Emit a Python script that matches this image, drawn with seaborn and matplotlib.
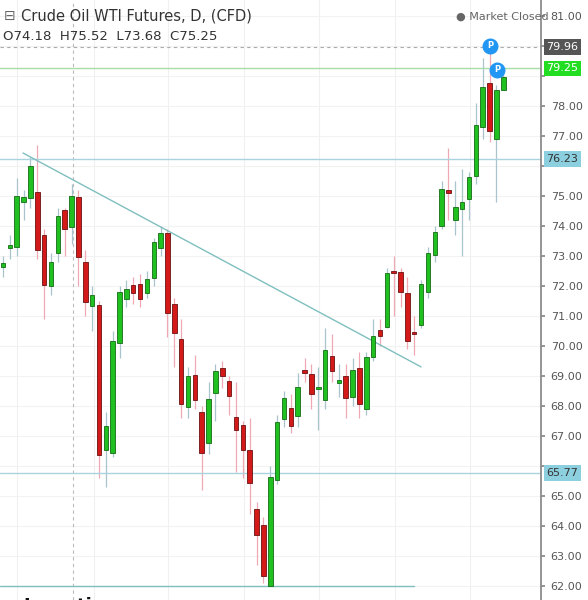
import matplotlib
matplotlib.use('Agg')
import matplotlib.pyplot as plt
import seaborn as sns
import numpy as np

# OHLC per daily candle
opens = [72.63, 73.27, 73.3, 74.8, 74.93, 75.13, 73.7, 72.0, 73.1, 74.53,
         73.97, 74.97, 72.8, 71.33, 71.37, 66.53, 66.43, 70.1, 71.57, 72.03,
         72.07, 71.77, 72.27, 73.27, 73.77, 71.4, 70.23, 67.97, 69.03, 67.8,
         66.77, 68.43, 69.27, 68.83, 67.63, 67.37, 66.53, 64.57, 64.03, 62.0,
         65.53, 67.57, 67.93, 67.67, 69.2, 69.07, 68.55, 68.2, 69.67, 68.77,
         69.0, 68.3, 69.27, 67.9, 69.63, 70.53, 70.63, 72.5, 72.47, 71.77,
         70.45, 70.7, 71.8, 73.03, 74.0, 75.2, 74.2, 74.57, 74.9, 75.67,
         77.3, 78.77, 76.9, 78.53]
closes = [72.77, 73.27, 75.0, 74.97, 76.0, 73.2, 72.03, 72.8, 74.33, 73.9,
          75.0, 72.97, 71.47, 71.7, 66.37, 67.33, 70.17, 71.8, 71.9, 71.77,
          71.57, 72.23, 73.47, 73.77, 71.1, 70.43, 68.07, 69.0, 68.2, 66.43,
          68.23, 69.17, 69.0, 68.33, 67.2, 66.53, 65.43, 63.7, 62.33, 65.63,
          67.47, 68.27, 67.33, 68.63, 69.1, 68.4, 68.62, 69.87, 69.17, 68.77,
          68.27, 69.2, 68.07, 69.63, 70.33, 70.33, 72.43, 72.43, 71.8, 70.17,
          70.4, 72.07, 73.1, 73.8, 75.23, 75.1, 74.63, 74.8, 75.63, 77.37,
          78.63, 77.17, 78.53, 78.97]
highs = [73.0, 73.7, 75.6, 75.2, 76.3, 76.7, 73.9, 73.1, 74.6, 74.6,
         75.4, 75.2, 73.2, 72.0, 71.5, 67.8, 70.5, 72.0, 72.2, 72.3,
         72.4, 72.5, 73.6, 74.0, 73.9, 71.6, 70.9, 69.3, 69.7, 68.0,
         68.8, 69.4, 69.5, 69.0, 68.8, 67.5, 67.6, 64.8, 64.3, 66.0,
         67.7, 68.5, 68.4, 69.1, 69.6, 69.4, 69.3, 70.6, 70.4, 69.4,
         69.4, 69.6, 69.8, 69.8, 70.9, 70.9, 72.6, 73.0, 72.6, 72.3,
         71.0, 72.2, 73.3, 74.0, 75.5, 76.6, 75.5, 75.9, 75.8, 78.1,
         79.6, 79.9, 78.7, 79.1]
lows = [72.3, 72.9, 73.0, 74.2, 74.6, 72.9, 70.9, 71.7, 72.8, 73.0,
        73.4, 72.0, 71.0, 70.5, 65.6, 65.3, 66.3, 69.6, 71.3, 71.4,
        71.3, 71.6, 72.0, 73.0, 70.3, 69.3, 67.6, 67.6, 67.9, 65.2,
        66.4, 67.5, 68.6, 67.7, 65.8, 65.6, 64.4, 62.7, 62.1, 62.0,
        65.4, 67.3, 67.1, 67.3, 68.8, 67.9, 67.2, 67.9, 68.8, 68.3,
        67.6, 68.0, 67.6, 67.7, 69.5, 70.0, 70.6, 71.0, 71.3, 69.9,
        69.7, 70.6, 71.6, 72.8, 73.9, 74.2, 73.7, 73.0, 74.2, 75.4,
        76.9, 76.8, 74.8, 78.7]
price_ticks = list(range(62, 82))
hidden_ticks = [66, 76, 79, 80]  # covered by the level boxes
level_lines = [76.23, 65.77]

sns.set_theme(style='white')
plt.rcParams['font.family'] = ['DejaVu Sans']

fig = plt.figure(figsize=(5.88, 6.0), dpi=100)
ax = fig.add_axes([0, 0, 541 / 588, 1])

idx = np.arange(len(opens))
o = np.array(opens); c = np.array(closes)
up = c >= o
green, red = '#21c021', '#d41919'

# grid
for gx in [17, 94, 168, 244, 319, 395, 470]:
    ax.axvline((gx - 3) / 6.85, color='#f0f0f0', lw=0.8, zorder=0)
for p in price_ticks:
    ax.axhline(p, color='#f2f2f2', lw=0.8, zorder=0)
ax.axvline((73 - 3) / 6.85, color='#bbbbbb', lw=0.8, ls=(0, (3, 3)), zorder=0)

# wicks and bodies
ax.vlines(idx[up], np.array(lows)[up], np.array(highs)[up], color='#a9c4cc', lw=0.9, zorder=1)
ax.vlines(idx[~up], np.array(lows)[~up], np.array(highs)[~up], color='#efa8b4', lw=0.9, zorder=1)
bottoms = np.minimum(o, c)
heights = np.maximum(np.abs(c - o), 0.08)
ax.bar(idx[up], heights[up], bottom=bottoms[up], width=0.66, color=green,
       edgecolor='#146b14', lw=0.6, zorder=2)
ax.bar(idx[~up], heights[~up], bottom=bottoms[~up], width=0.66, color=red,
       edgecolor='#6b1010', lw=0.6, zorder=2)

# horizontal levels and trendline
ax.axhline(79.96, color='#aaaaaa', lw=0.8, ls=(0, (3, 3)), zorder=1)
ax.axhline(79.25, color='#a8dca8', lw=1.0, zorder=1)
for lv in level_lines:
    ax.axhline(lv, color='#a9d3de', lw=1.0, zorder=1)
ax.plot([-0.4, 59.9], [62.0, 62.0], color='#7fbfbf', lw=1.0, zorder=1)
ax.plot([2.92, 61.0], [76.43, 69.3], color='#7fbfbf', lw=1.0, zorder=1)

ax.set_xlim(-0.44, 78.5)
ax.set_ylim(61.53, 81.53)
ax.yaxis.tick_right()
ax.set_yticks(price_ticks)
ax.set_yticklabels(['' if p in hidden_ticks else f'{p:.2f}' for p in price_ticks],
                   color='#555555', fontsize=8)
ax.tick_params(axis='y', length=3, color='#888888', pad=4)
ax.set_xticks([])
for s in ['top', 'left', 'bottom']:
    ax.spines[s].set_visible(False)
ax.spines['right'].set_color('#888888')

# price label boxes on the axis
for val, fc, tc in [(79.96, '#555555', 'white'), (79.25, '#22dd22', 'white'),
                    (76.23, '#8ccfdf', '#333333'), (65.77, '#8ccfdf', '#333333')]:
    ax.annotate(f'{val:.2f}', xy=(1, val), xycoords=('axes fraction', 'data'),
                xytext=(4, 0), textcoords='offset points', va='center', ha='left',
                fontsize=8, color=tc,
                bbox=dict(boxstyle='square,pad=0.25', fc=fc, ec='none'), zorder=5)

# P markers
for xi, yp in [(71.1, 80.0), (72.1, 79.2)]:
    ax.scatter([xi], [yp], s=110, color='#2196f3', zorder=6)
    ax.text(xi, yp, 'P', color='white', fontsize=6, fontweight='bold',
            ha='center', va='center', zorder=7)

# header texts
fig.text(0.036, 0.973, 'Crude Oil WTI Futures, D, (CFD)', fontsize=10.5, color='#333333', va='center')
fig.text(0.006, 0.973, '⊟', fontsize=10, color='#666666', va='center')
fig.text(0.005, 0.94, 'O74.18  H75.52  L73.68  C75.25', fontsize=9.5, color='#333333', va='center')
fig.text(0.775, 0.973, '● Market Closed', fontsize=8, color='#666666', va='center')
fig.text(0.04, -0.01, 'Investing', fontsize=13, fontweight='bold', color='#111111', va='center')

fig.savefig('out.png', dpi=100)
